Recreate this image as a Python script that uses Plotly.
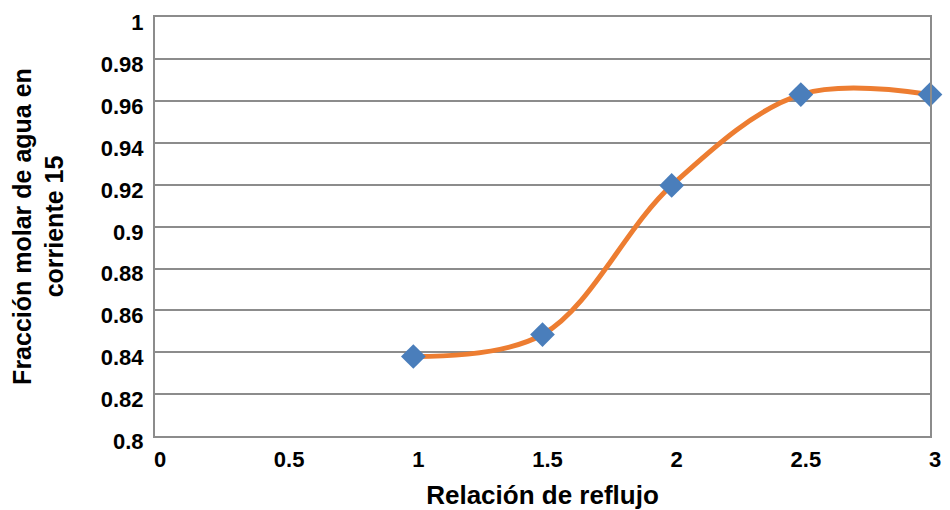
import plotly.graph_objects as go

reflujo = [1, 1.5, 2, 2.5, 3]
fraccion = [0.838, 0.8485, 0.9198, 0.9632, 0.9632]

x_ticks = [0, 0.5, 1, 1.5, 2, 2.5, 3]
y_ticks = [0.8, 0.82, 0.84, 0.86, 0.88, 0.9, 0.92, 0.94, 0.96, 0.98, 1]

fig = go.Figure()
fig.add_trace(go.Scatter(
    x=reflujo, y=fraccion, mode="lines",
    line=dict(color="#ED7D31", width=5, shape="spline", smoothing=1.0),
    showlegend=False, hoverinfo="skip", cliponaxis=False))
fig.add_trace(go.Scatter(
    x=reflujo, y=fraccion, mode="markers",
    marker=dict(symbol="diamond", size=19, color="#4A7EBB"),
    showlegend=False, cliponaxis=False))

grid = "#8C8C8C"
fam = "Liberation Sans, Arial, sans-serif"
fig.update_layout(
    width=950, height=510,
    margin=dict(l=155, r=20, t=17, b=74, autoexpand=False),
    paper_bgcolor="white", plot_bgcolor="white",
    font=dict(family=fam, color="black"),
    xaxis=dict(
        range=[0, 3], tickvals=x_ticks, ticktext=[f"{v:g}" for v in x_ticks],
        showgrid=False, zeroline=False,
        showline=True, linecolor=grid, linewidth=2, mirror=True,
        ticks="", tickfont=dict(size=22, family=fam, weight="bold"),
        ticklabelstandoff=3, ticklabelshift=5,
        title=dict(text="<b>Relación de reflujo</b>", font=dict(size=26), standoff=15),
    ),
    yaxis=dict(
        range=[0.8, 1.0003], tickvals=y_ticks, ticktext=[f"{v:g}" for v in y_ticks],
        showgrid=True, gridcolor=grid, gridwidth=2, zeroline=False,
        showline=True, linecolor=grid, linewidth=2, mirror=True,
        ticks="", tickfont=dict(size=22, family=fam, weight="bold"),
        ticklabelstandoff=5, ticklabelshift=5,
        title=dict(text="<b>Fracción molar de agua en<br>corriente 15</b>", font=dict(size=25), standoff=30),
    ),
)
fig.write_html("out.html")
